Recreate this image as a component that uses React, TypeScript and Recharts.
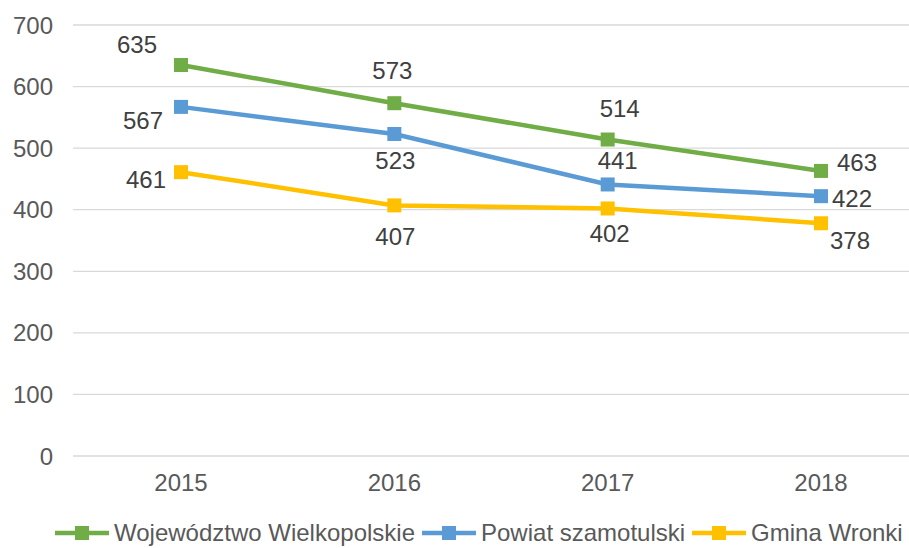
import React from "react";
import { LineChart, Line, XAxis, YAxis, CartesianGrid, LabelList } from "recharts";

const years = ["2015", "2016", "2017", "2018"];
const wielkopolskie = [635, 573, 514, 463];
const szamotulski = [567, 523, 441, 422];
const wronki = [461, 407, 402, 378];
const yTicks = [0, 100, 200, 300, 400, 500, 600, 700];

const data = years.map((year, i) => ({
  year,
  woj: wielkopolskie[i],
  pow: szamotulski[i],
  gmina: wronki[i],
}));

const FONT = "'Liberation Sans', Arial, sans-serif";

// label offsets from each point, per series
const wojOffsets = [[-44, -21], [-2, -33], [12, -31], [36, -8]];
const powOffsets = [[-38, 14], [1, 27], [10, -24], [31, 2]];
const gminaOffsets = [[-35, 7], [1, 31], [2, 25], [29, 17]];

const series = [
  { key: "woj", name: "Województwo Wielkopolskie", color: "#70AD47", offsets: wojOffsets },
  { key: "pow", name: "Powiat szamotulski", color: "#5B9BD5", offsets: powOffsets },
  { key: "gmina", name: "Gmina Wronki", color: "#FFC000", offsets: gminaOffsets },
];

function squareDot(color: string) {
  return (props: any) => {
    const { cx, cy, index } = props;
    if (cx == null || cy == null) return <g key={index} />;
    return <rect key={index} x={cx - 7} y={cy - 7} width={14} height={14} fill={color} />;
  };
}

function offsetLabel(offsets: number[][]) {
  return (props: any) => {
    const { x, y, value, index } = props;
    const [dx, dy] = offsets[index] || [0, -20];
    return (
      <text
        x={x + dx}
        y={y + dy}
        textAnchor="middle"
        dominantBaseline="central"
        fontSize={24}
        fontFamily={FONT}
        fill="#404040"
      >
        {value}
      </text>
    );
  };
}

function LegendIcon({ color }: { color: string }) {
  return (
    <svg width={54} height={16} style={{ display: "block" }}>
      <line x1={0} y1={8} x2={54} y2={8} stroke={color} strokeWidth={4.5} />
      <rect x={20} y={1} width={14} height={14} fill={color} />
    </svg>
  );
}

export default function App() {
  return (
    <div
      style={{
        position: "absolute",
        left: 0,
        top: 0,
        width: 909,
        height: 548,
        background: "#fff",
        overflow: "hidden",
        fontFamily: FONT,
      }}
    >
      <LineChart width={909} height={548} data={data} margin={{ top: 25, right: 0, left: 13, bottom: 62 }}>
        <CartesianGrid vertical={false} stroke="#d9d9d9" strokeWidth={1.3} />
        <XAxis
          dataKey="year"
          scale="point"
          padding={{ left: 108, right: 88 }}
          axisLine={false}
          tickLine={false}
          tickSize={10}
          tickMargin={8}
          height={30}
          tick={{ fontSize: 24, fill: "#595959", fontFamily: FONT }}
        />
        <YAxis
          domain={[0, 700]}
          ticks={yTicks}
          width={60}
          axisLine={false}
          tickLine={false}
          tickSize={12}
          tickMargin={8}
          tick={{ fontSize: 24, fill: "#595959", fontFamily: FONT }}
        />
        {series.map((s) => (
          <Line
            key={s.key}
            type="linear"
            dataKey={s.key}
            name={s.name}
            stroke={s.color}
            strokeWidth={4.5}
            dot={squareDot(s.color)}
            activeDot={false}
            isAnimationActive={false}
          >
            <LabelList dataKey={s.key} content={offsetLabel(s.offsets)} />
          </Line>
        ))}
      </LineChart>
      <div
        style={{
          position: "absolute",
          left: 55,
          top: 519,
          height: 28,
          display: "flex",
          alignItems: "center",
          gap: 7,
          fontSize: 24,
          color: "#595959",
          whiteSpace: "nowrap",
        }}
      >
        {series.map((s) => (
          <div key={s.key} style={{ display: "flex", alignItems: "center", gap: 5 }}>
            <LegendIcon color={s.color} />
            <span>{s.name}</span>
          </div>
        ))}
      </div>
    </div>
  );
}
